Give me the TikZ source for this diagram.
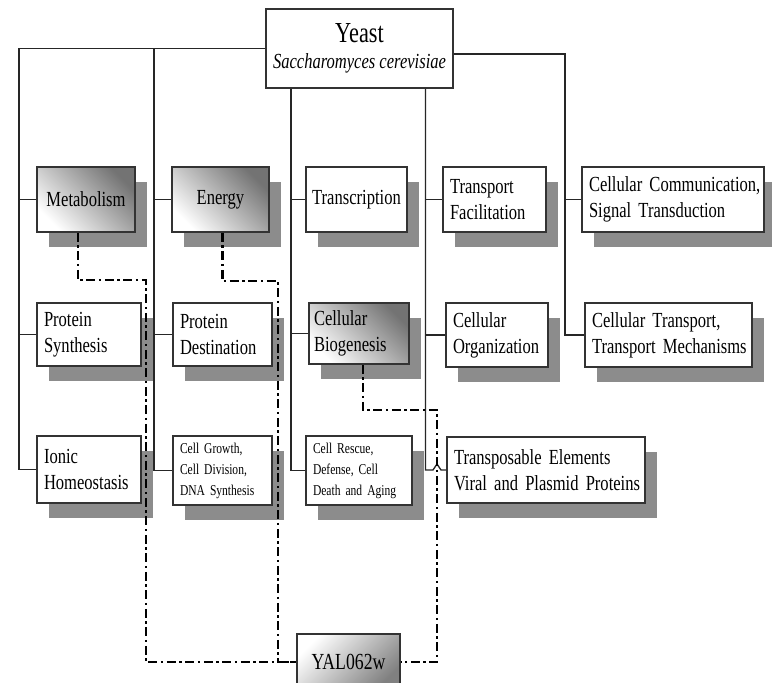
\documentclass[tikz,border=0pt]{standalone}
\usepackage{fontspec}
\setmainfont{Liberation Serif}[FakeStretch=0.77]
\usetikzlibrary{calc,shadows}
\definecolor{shad}{gray}{0.55}
\definecolor{boxc}{gray}{0.2}
\newcommand\oneline[1]{\mbox{#1}}
\begin{document}
\begin{tikzpicture}[x=1pt,y=-1pt,
  bx/.style={draw=boxc, line width=1.7pt, fill=white, inner xsep=7pt, inner ysep=3pt,
    font=\fontsize{21.5}{26}\selectfont, align=left},
  sh/.style={general shadow={fill=shad, shadow xshift=12pt, shadow yshift=-15pt}},
  grad/.style={top color=black!55, middle color=white, bottom color=white, shading angle=-45},
  small/.style={font=\fontsize{15}{21}\selectfont},
  conn/.style={draw=black!85, line width=1.3pt},
  dd/.style={draw=black, line width=2.6pt, dash pattern=on 9pt off 3.5pt on 2.5pt off 3.5pt}]
\fill[white] (0,0) rectangle (772,683);
\useasboundingbox (0,0) rectangle (772,683);

% top node
\node[bx, minimum width=185pt, minimum height=79pt, align=center, inner ysep=2pt] (yeast) at (359.5,48.5)
  {{\fontsize{29}{29}\selectfont Yeast}\\{\itshape Saccharomyces cerevisiae}};

% row 1
\node[bx, sh, grad, minimum width=98pt, minimum height=65pt, text width=84pt, align=center] (met) at (86,199.5) {Metabolism};
\node[bx, sh, grad, minimum width=97pt, minimum height=65pt, text width=83pt, align=center] (energy) at (220.5,199.5) {Energy};
\node[bx, sh, minimum width=101pt, minimum height=65pt, text width=95pt, inner xsep=3pt, align=center] (transc) at (356.5,199.5) {\oneline{Transcription}};
\node[bx, sh, minimum width=103pt, minimum height=65pt, text width=89pt] (tfac) at (494.5,199.5) {\oneline{Transport}\\\oneline{Facilitation}};
\node[bx, sh, minimum width=182pt, minimum height=65pt, text width=168pt] (ccomm) at (673,199.5) {\oneline{Cellular Communication,}\\\oneline{Signal Transduction}};

% row 2
\node[bx, sh, minimum width=104pt, minimum height=63pt, text width=90pt] (psyn) at (89,334.5) {\oneline{Protein}\\\oneline{Synthesis}};
\node[bx, sh, minimum width=99pt, minimum height=63pt, text width=85pt] (pdest) at (222.5,334.5) {\oneline{Protein}\\\oneline{Destination}};
\node[bx, sh, grad, minimum width=100pt, minimum height=61pt, text width=90pt, inner xsep=5pt] (cbio) at (359,333.5) {\oneline{Cellular}\\\oneline{Biogenesis}};
\node[bx, sh, minimum width=102pt, minimum height=64pt, text width=88pt] (corg) at (497,335) {\oneline{Cellular}\\\oneline{Organization}};
\node[bx, sh, minimum width=167pt, minimum height=64pt, text width=153pt] (ctrans) at (668.5,335) {\oneline{Cellular Transport,}\\\oneline{Transport Mechanisms}};

% row 3
\node[bx, sh, minimum width=104pt, minimum height=67pt, text width=90pt] (ionic) at (89,469.5) {\oneline{Ionic}\\\oneline{Homeostasis}};
\node[bx, sh, small, minimum width=99pt, minimum height=69pt, text width=85pt] (cgrow) at (222.5,470.5) {\oneline{Cell Growth,}\\\oneline{Cell Division,}\\\oneline{DNA Synthesis}};
\node[bx, sh, small, minimum width=106pt, minimum height=69pt, text width=92pt] (cresc) at (359,470.5) {\oneline{Cell Rescue,}\\\oneline{Defense, Cell}\\\oneline{Death and Aging}};
\node[bx, sh, minimum width=198pt, minimum height=66pt, text width=184pt] (transp) at (546,470) {\oneline{Transposable Elements}\\\oneline{Viral and Plasmid Proteins}};

% bottom gene node
\node[bx, top color=black!50, middle color=white, bottom color=white, shading angle=-135,
  minimum width=103pt, minimum height=56pt, align=center, font=\fontsize{23}{26}\selectfont] (yal) at (348.5,662) {YAL062w};

% column coordinates
\coordinate (c1) at (19,0);
\coordinate (c2) at (154,0);
\coordinate (c3) at (291,0);
\coordinate (c4) at (425.5,0);
\coordinate (c5) at (565,0);
\coordinate (d1) at (146,280);
\coordinate (d2) at (278,281);
\coordinate (d3) at (437,410);

% solid tree connectors
\draw[conn] (yeast.west) -| (c1 |- ionic.west) -- (ionic.west);
\draw[conn] (c1 |- met.west) -- (met.west);
\draw[conn] (c1 |- psyn.west) -- (psyn.west);
\draw[conn] (c2 |- yeast.west) |- (cgrow.west);
\draw[conn] (c2 |- energy.west) -- (energy.west);
\draw[conn] (c2 |- pdest.west) -- (pdest.west);
\draw[conn] (c3 |- yeast.south) |- (cresc.west);
\draw[conn] (c3 |- transc.west) -- (transc.west);
\draw[conn] (c3 |- cbio.west) -- (cbio.west);
\draw[conn] (c4 |- yeast.south) -- (c4 |- transp.west) -- ++(7.5,0) -- ++(4,-6) -- ++(4,6) -- (transp.west);
\draw[conn] (c4 |- tfac.west) -- (tfac.west);
\draw[conn] (c4 |- corg.west) -- (corg.west);
\draw[conn] ($(yeast.east)+(0,5.5)$) -| (c5 |- ctrans.west) -- (ctrans.west);
\draw[conn] (c5 |- ccomm.west) -- (ccomm.west);

% dash-dot links to the gene
\draw[dd] ($(met.south)+(-8,0)$) |- (d1) |- (yal.west);
\draw[dd] ($(energy.south)+(2,0)$) |- (d2) |- (yal.west);
\draw[dd] ($(cbio.south)+(4,0)$) |- (d3) |- (yal.east);
\end{tikzpicture}
\end{document}
